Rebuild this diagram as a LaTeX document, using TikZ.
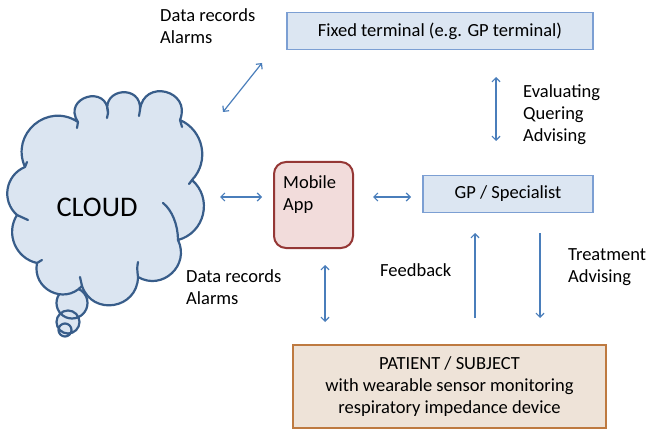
\documentclass[tikz,border=0pt]{standalone}
\usepackage{fontspec}
\setmainfont{Carlito}
\usetikzlibrary{arrows.meta}
\definecolor{arrowblue}{HTML}{4A7EBB}
\definecolor{boxfill}{HTML}{DCE6F2}
\definecolor{boxline}{HTML}{7C9FD3}
\definecolor{appfill}{HTML}{F2DCDB}
\definecolor{appline}{HTML}{953735}
\definecolor{patfill}{HTML}{EEE3D8}
\definecolor{patline}{HTML}{BE7A40}
\definecolor{cloudfill}{HTML}{DBE5F1}
\definecolor{cloudline}{HTML}{385D8A}
\tikzset{
  x=1pt, y=-1pt,
  every node/.style={font=\fontsize{18.5}{22}\selectfont, inner sep=0pt},
  bluebox/.style={draw=boxline, fill=boxfill, line width=1.2pt},
  link/.style={draw=arrowblue, line width=1.2pt, {Straight Barb[length=4pt,width=8pt]}-{Straight Barb[length=4pt,width=8pt]}},
  oneway/.style={draw=arrowblue, line width=1.2pt, -{Straight Barb[length=4pt,width=8pt]}},
  lbl/.style={align=left, anchor=west},
  cloudedge/.style={draw=cloudline, line width=2.2pt, line cap=round, line join=round},
  % a near-circular puff: bend angle and looseness of one arc
  puff/.style 2 args={bend left=#1, looseness=#2}
}
\begin{document}
\begin{tikzpicture}
\useasboundingbox (0,0) rectangle (648,441);
% thought bubbles under the cloud: fills first, then outlines
\fill[cloudfill] (72,303) circle (15.5) (68,322) circle (11.5) (65,330) circle (6.5);
\draw[cloudedge] (72,303) circle (15.5) (68,322) circle (11.5) (65,330) circle (6.5);

% the cloud outline, puff by puff
\path[cloudedge, fill=cloudfill]
  (25,167) to[puff={74}{1.34}] (78,122)
           to[puff={107}{2.43}] (108,113)
           to[puff={100}{2.08}] (140,110)
           to[puff={98}{1.99}] (180,120)
           to[puff={55}{1.08}] (192,180)
           to[puff={62}{1.16}] (178,240)
           to[puff={73}{1.32}] (138,277)
           to[puff={80}{1.45}] (82,286)
           to[puff={74}{1.34}] (37,263)
           to[puff={55}{1.08}] (17,215)
           to[puff={58}{1.12}] cycle;
% short inner strokes where the puffs meet
\draw[cloudedge]
  (78,122) -- (77,128)
  (108,113) -- (107,118)
  (140,110) -- (139,116)
  (180,120) -- (182,127)
  (192,180) -- (189,184)
  (163,203) .. controls (172,210) and (178,225) .. (178,240)
  (138,262) .. controls (137,268) .. (138,277)
  (82,286) -- (80,277)
  (37,263) -- (42,260)
  (17,215) -- (28,220)
  (25,167) -- (27,162);
\node[font=\fontsize{28.4}{34}\selectfont] (cloudtxt) at (97,207) {CLOUD};

% boxes
\node[bluebox, minimum width=306, minimum height=37] (fixed) at (440,31) {Fixed terminal (e.g. GP terminal)};
\node[bluebox, minimum width=170, minimum height=37] (gp) at (508,194) {GP / Specialist};
\node[draw=appline, fill=appfill, line width=2pt, rounded corners=12, minimum width=79, minimum height=86] (app) at (313.5,205) {};
\node[lbl, anchor=north west] (apptxt) at (283,175) {Mobile\\App};
\node[draw=patline, fill=patfill, line width=1.2pt, minimum width=313, minimum height=83, align=center] (patient) at (449.5,386.5)
  {PATIENT / SUBJECT\\with wearable sensor monitoring\\respiratory impedance device};

% labels
\node[lbl] (dr1) at (160,26) {Data records\\Alarms};
\node[lbl] (eval) at (523,115) {Evaluating\\Quering\\Advising};
\node[lbl] (dr2) at (186,287) {Data records\\Alarms};
\node[lbl] (fb) at (380,270) {Feedback};
\node[lbl] (treat) at (568,267) {Treatment\\Advising};

% connector end points
\coordinate (c1) at (223,112); \coordinate (c2) at (262,63);
\coordinate (v1) at (496,77);  \coordinate (v2) at (496,141);
\coordinate (h1) at (220,197); \coordinate (h2) at (262,197);
\coordinate (h3) at (373,197); \coordinate (h4) at (411,197);
\coordinate (m1) at (325,265); \coordinate (m2) at (325,322);
\coordinate (u1) at (475,318); \coordinate (u2) at (475,233);
\coordinate (d1) at (540,233); \coordinate (d2) at (540,318);

\draw[link] (c1) -- (c2);
\draw[link] (v1) -- (v2);
\draw[link] (h1) -- (h2);
\draw[link] (h3) -- (h4);
\draw[link] (m1) -- (m2);
\draw[oneway] (u1) -- (u2);
\draw[oneway] (d1) -- (d2);
\end{tikzpicture}
\end{document}
